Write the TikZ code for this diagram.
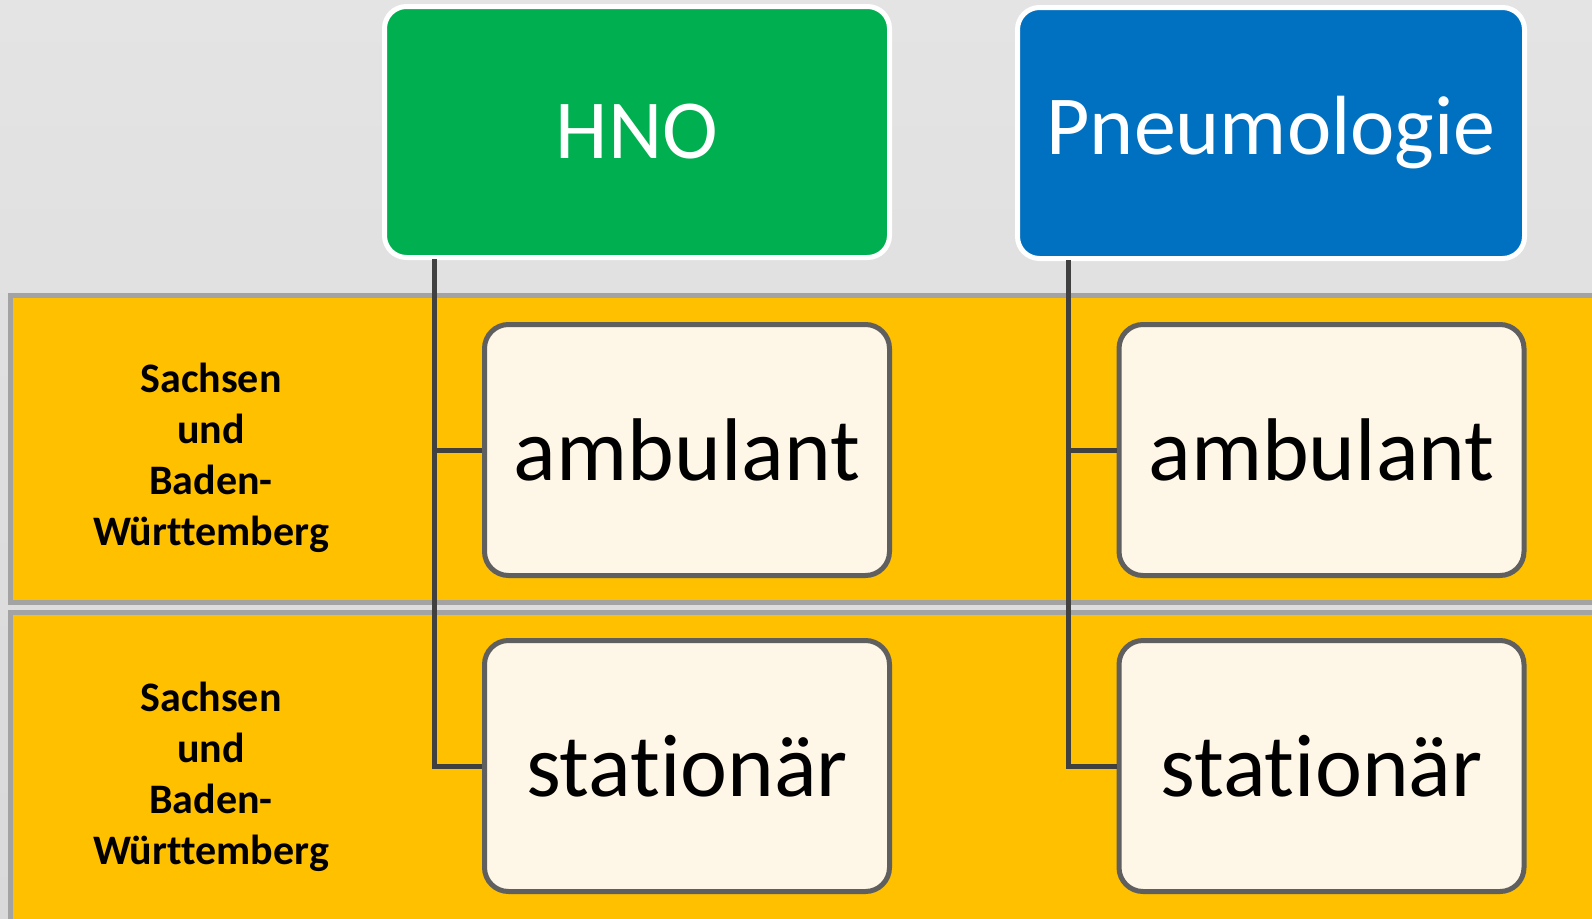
\documentclass[tikz,border=0pt]{standalone}
\usepackage{fontspec}
\setmainfont{Carlito}[Ligatures=NoCommon]
\definecolor{bgtop}{HTML}{E4E4E4}
\definecolor{bgbot}{HTML}{D9D9D9}
\definecolor{bandfill}{HTML}{FFC000}
\definecolor{bandline}{HTML}{A3A3A3}
\definecolor{hnogreen}{HTML}{00B050}
\definecolor{pneublue}{HTML}{0070C0}
\definecolor{childfill}{HTML}{FEF6E6}
\definecolor{childline}{HTML}{5F5F5F}
\definecolor{connline}{HTML}{404040}
\tikzset{
  band/.style={draw=bandline, line width=5pt, fill=bandfill},
  header/.style={draw=white, line width=5pt, rounded corners=22pt, text=white,
    font=\fontsize{84}{100}\selectfont, inner sep=0pt},
  child/.style={draw=childline, line width=5pt, fill=childfill, rounded corners=24pt,
    font=\fontsize{89}{105}\selectfont, text=black, inner sep=0pt,
    minimum width=405pt, minimum height=251pt},
  bandlabel/.style={align=center, font=\fontsize{42}{51}\selectfont\bfseries, text=black},
  conn/.style={draw=connline, line width=5pt}
}
\begin{document}
\begin{tikzpicture}[x=1pt, y=-1pt]
\useasboundingbox (0,0) rectangle (1592,918);
\clip (0,0) rectangle (1592,918);
\shade[top color=bgtop, bottom color=bgbot] (0,0) rectangle (1592,918);
% bands
\path[band] (10.5,295.5) rectangle (1620,602.5);
\path[band] (10.5,612.5) rectangle (1620,945);
\node[bandlabel] (lab1) at (211,458) {Sachsen\\und\\Baden-\\Württemberg};
\node[bandlabel] (lab2) at (211,777) {Sachsen\\und\\Baden-\\Württemberg};
% headers
\node[header, fill=hnogreen, minimum width=505pt, minimum height=251pt] (hno) at (637,132) {HNO};
\node[header, fill=pneublue, minimum width=507pt, minimum height=251pt] (pneu) at (1271,133) {Pneumologie};
% children
\node[child] (amb1) at (687,450) {ambulant};
\node[child] (sta1) at (687,766) {stationär};
\node[child] (amb2) at (1321.5,450) {ambulant};
\node[child] (sta2) at (1321.5,766) {stationär};
% connectors
\draw[conn] ([xshift=52.5pt,yshift=1pt]hno.south west) |- (amb1.west);
\draw[conn] ([xshift=52.5pt,yshift=1pt]hno.south west) |- (sta1.west);
\draw[conn] ([xshift=53pt,yshift=1pt]pneu.south west) |- (amb2.west);
\draw[conn] ([xshift=53pt,yshift=1pt]pneu.south west) |- (sta2.west);
\end{tikzpicture}
\end{document}
